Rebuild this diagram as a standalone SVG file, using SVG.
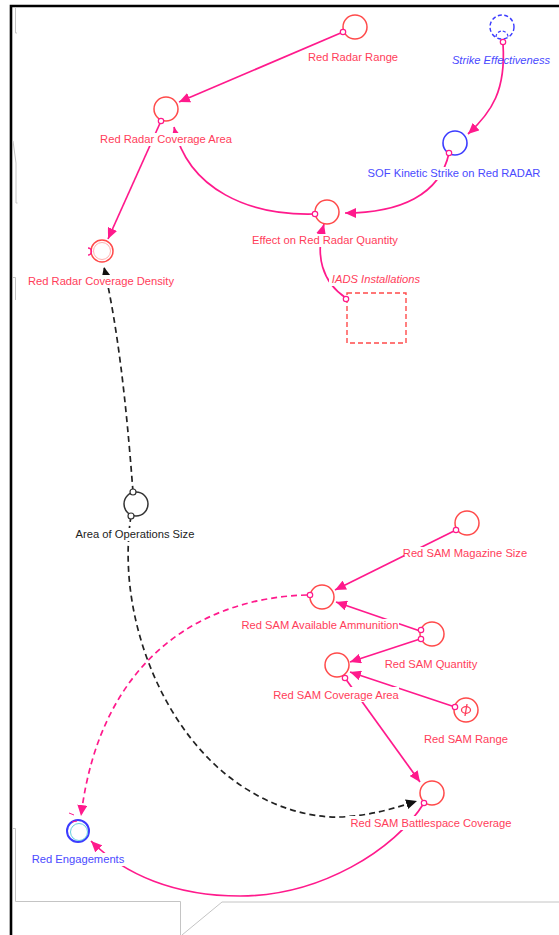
<svg xmlns="http://www.w3.org/2000/svg" width="559" height="935" viewBox="0 0 559 935">
<style>
.lbl{font-family:"Liberation Sans",Arial,sans-serif;font-size:11.2px;text-anchor:middle}
.r{fill:#ff3d5a}
.b{fill:#4a4aff}
.k{fill:#222}
.it{font-style:italic}
.bg{fill:#fff}
.nr{fill:#fff;stroke:#ff4a4a;stroke-width:1.5}
.nb{fill:#fff;stroke:#3c3cff;stroke-width:1.6}
.nk{fill:#fff;stroke:#333;stroke-width:1.5}
.pc{fill:#fff;stroke:#ff1a8c;stroke-width:1.2}
.kc{fill:#fff;stroke:#333;stroke-width:1.2}
.lp{fill:none;stroke:#ff1a8c;stroke-width:1.7}
.lk{fill:none;stroke:#222;stroke-width:1.7;stroke-dasharray:6 4}
.dash{stroke-dasharray:6 4}
.gray{fill:none;stroke:#c4c4c4;stroke-width:1}
</style>
<defs>
<marker id="ap" markerUnits="userSpaceOnUse" markerWidth="12" markerHeight="10" refX="11" refY="5" orient="auto"><path d="M0,0 L11,5 L0,10 z" fill="#ff1a8c"/></marker>
<marker id="ak" markerUnits="userSpaceOnUse" markerWidth="12" markerHeight="10" refX="11" refY="5" orient="auto"><path d="M0,0 L11,5 L0,10 z" fill="#111"/></marker>
</defs>
<rect x="0" y="0" width="559" height="935" fill="#fff"/>
<g id="frame">
<path d="M11,935 L11,6 L559,6" fill="none" stroke="#000" stroke-width="2.6"/>
<path class="gray" d="M15.5,7 L15.5,33 L17,33"/>
<path class="gray" d="M13,141 L16,163 L16,203 L17.5,203"/>
<path class="gray" d="M13,277.5 L15.5,277.5 L15.5,300"/>
<path class="gray" d="M13,828.5 L15.5,828.5 L15.5,901.5 L180.5,901.5 L180.5,935"/>
<path class="gray" d="M182,935 L222,902 L559,902"/>
</g>
<g id="connectors">
<path class="lp" d="M343,32 L179,102" marker-end="url(#ap)"/>
<path class="lp" d="M503,44 C506,90 492,112 468,134" marker-end="url(#ap)"/>
<path class="lp" d="M449,153 C440,195 400,213 345,213" marker-end="url(#ap)"/>
<path class="lp" d="M315,214 C250,216 188,190 174,127" marker-end="url(#ap)"/>
<path class="lp" d="M161,121 L108,239" marker-end="url(#ap)"/>
<path class="lp" d="M346,298 C322,282 315,256 324,224" marker-end="url(#ap)"/>
<path class="lk" d="M133,492 C126,400 118,330 104,267" marker-end="url(#ak)"/>
<path class="lk" d="M131,516 C118,600 150,700 210,760 C250,800 300,818 340,817 C370,816 395,808 417,801" marker-end="url(#ak)"/>
<path class="lp" d="M456,530 L335,590" marker-end="url(#ap)"/>
<path class="lp" d="M420,631 L336,602" marker-end="url(#ap)"/>
<path class="lp" d="M420,639 L350,662" marker-end="url(#ap)"/>
<path class="lp" d="M455,707 L350,672" marker-end="url(#ap)"/>
<path class="lp" d="M345,678 L420,782" marker-end="url(#ap)"/>
<path class="lp dash" d="M307,595 C200,598 100,660 81,816" marker-end="url(#ap)"/>
<path class="lp" d="M424,803 C395,850 320,896 240,896 C175,896 125,875 91,841" marker-end="url(#ap)"/>
</g>
<g id="n-red-radar-range">
<circle class="nr" cx="355" cy="27" r="12"/>
<circle class="pc" cx="343" cy="32" r="2.7"/>
<rect class="bg" x="306" y="51" width="95" height="13"/>
<text class="lbl r" x="353" y="61">Red Radar Range</text>
</g>
<g id="n-strike-effectiveness">
<circle cx="502" cy="27" r="12" fill="#fff" stroke="#3c3cff" stroke-width="1.4" stroke-dasharray="4 2.5"/>
<path d="M496,37 A5.5,5.5 0 0 1 508,37" fill="none" stroke="#3c3cff" stroke-width="1.2" stroke-dasharray="3 2"/>
<circle class="pc" cx="503" cy="42" r="2.7"/>
<text class="lbl b it" x="501" y="64">Strike Effectiveness</text>
</g>
<g id="n-red-radar-coverage-area">
<circle class="nr" cx="166" cy="109" r="12"/>
<circle class="pc" cx="161" cy="121" r="2.7"/>
<rect class="bg" x="99" y="133" width="134" height="13"/>
<text class="lbl r" x="166" y="143">Red Radar Coverage Area</text>
</g>
<g id="n-red-radar-coverage-density">
<circle class="nr" cx="102" cy="251" r="11" stroke-width="2"/>
<circle cx="102" cy="251" r="8.5" fill="none" stroke="#ffb0b0" stroke-width="1"/>
<path d="M88,248 A3.5,3.5 0 0 1 88,255" fill="none" stroke="#ff1a8c" stroke-width="1.3"/>
<rect class="bg" x="26" y="275" width="150" height="13"/>
<text class="lbl r" x="101" y="285">Red Radar Coverage Density</text>
</g>
<g id="n-sof-kinetic-strike">
<circle class="nb" cx="455" cy="143" r="12"/>
<circle class="pc" cx="449" cy="153" r="2.7"/>
<rect class="bg" x="367" y="167" width="174" height="13"/>
<text class="lbl b" x="454" y="177">SOF Kinetic Strike on Red RADAR</text>
</g>
<g id="n-effect-on-red-radar-quantity">
<circle class="nr" cx="327" cy="212" r="12"/>
<circle class="pc" cx="315" cy="214" r="2.7"/>
<rect class="bg" x="252" y="234" width="147" height="13"/>
<text class="lbl r" x="325" y="244">Effect on Red Radar Quantity</text>
</g>
<g id="n-iads-installations">
<rect x="347" y="293" width="59" height="50" fill="#fff" stroke="#ff4a4a" stroke-width="1.4" stroke-dasharray="5 3"/>
<circle class="pc" cx="346" cy="299" r="2.7"/>
<rect class="bg" x="329" y="273" width="95" height="13"/>
<text class="lbl r it" x="376" y="283">IADS Installations</text>
</g>
<g id="n-area-of-operations-size">
<circle class="nk" cx="136" cy="504" r="12"/>
<circle class="kc" cx="133" cy="492" r="3"/>
<circle class="kc" cx="131" cy="516" r="3"/>
<rect class="bg" x="74" y="528" width="122" height="13"/>
<text class="lbl k" x="135" y="538">Area of Operations Size</text>
</g>
<g id="n-red-sam-magazine-size">
<circle class="nr" cx="467" cy="523" r="12"/>
<circle class="pc" cx="456" cy="530" r="2.7"/>
<rect class="bg" x="404" y="547" width="122" height="13"/>
<text class="lbl r" x="465" y="557">Red SAM Magazine Size</text>
</g>
<g id="n-red-sam-available-ammunition">
<circle class="nr" cx="322" cy="597" r="12"/>
<circle class="pc" cx="310" cy="595" r="2.7"/>
<rect class="bg" x="242" y="619" width="157" height="13"/>
<text class="lbl r" x="320" y="629">Red SAM Available Ammunition</text>
</g>
<g id="n-red-sam-quantity">
<circle class="nr" cx="432" cy="634" r="12"/>
<circle class="pc" cx="421" cy="630" r="2.7"/>
<circle class="pc" cx="421" cy="639" r="2.7"/>
<rect class="bg" x="385" y="658" width="92" height="13"/>
<text class="lbl r" x="431" y="668">Red SAM Quantity</text>
</g>
<g id="n-red-sam-coverage-area">
<circle class="nr" cx="337" cy="665" r="12"/>
<circle class="pc" cx="345" cy="678" r="2.7"/>
<rect class="bg" x="274" y="687" width="125" height="15"/>
<text class="lbl r" x="336" y="699">Red SAM Coverage Area</text>
</g>
<g id="n-red-sam-range">
<circle class="nr" cx="466" cy="710" r="12"/>
<ellipse cx="466" cy="710" rx="4.5" ry="3.3" fill="none" stroke="#ff3d5a" stroke-width="1.3"/>
<path d="M467,704 L465,716" stroke="#ff3d5a" stroke-width="1.3"/>
<circle class="pc" cx="455" cy="707" r="2.7"/>
<rect class="bg" x="423" y="733" width="86" height="13"/>
<text class="lbl r" x="466" y="743">Red SAM Range</text>
</g>
<g id="n-red-sam-battlespace-coverage">
<circle class="nr" cx="432" cy="793" r="12"/>
<circle class="pc" cx="424" cy="803" r="2.7"/>
<rect class="bg" x="349" y="816" width="165" height="14"/>
<text class="lbl r" x="431" y="827">Red SAM Battlespace Coverage</text>
</g>
<g id="n-red-engagements">
<circle cx="78" cy="831" r="11" fill="#fff" stroke="#3c3cff" stroke-width="2"/>
<circle cx="79" cy="832" r="8.5" fill="none" stroke="#66d0e0" stroke-width="1"/>
<path d="M69,813 L74,815 M72,822 L77,821" stroke="#ff1a8c" stroke-width="1"/>
<rect class="bg" x="30" y="853" width="97" height="13"/>
<text class="lbl b" x="78" y="863">Red Engagements</text>
</g>
</svg>
